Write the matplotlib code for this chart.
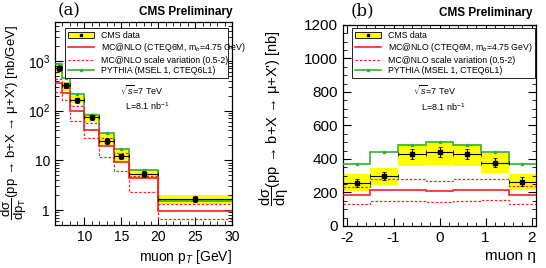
import numpy as np
import matplotlib
matplotlib.use('Agg')
import matplotlib.pyplot as plt
from matplotlib.patches import Patch
from matplotlib.lines import Line2D
from matplotlib.ticker import MultipleLocator, FixedLocator, FixedFormatter, LogLocator, NullFormatter

plt.rcParams['font.family'] = ['Liberation Sans', 'DejaVu Sans']
plt.rcParams['mathtext.fontset'] = 'custom'
plt.rcParams['mathtext.rm'] = 'Liberation Sans'
plt.rcParams['mathtext.it'] = 'Liberation Sans:italic'
plt.rcParams['mathtext.bf'] = 'Liberation Sans:bold'
plt.rcParams['axes.unicode_minus'] = False

# (a) muon pT spectrum, nb/GeV
pt_edges = [6, 7, 8, 10, 12, 14, 16, 20, 30]
pt_data = [700, 320, 162, 73, 24.8, 12.0, 5.4, 1.7]
pt_err = [80, 40, 20, 9, 3.2, 1.5, 0.7, 0.25]
pt_band_lo = [530, 245, 140, 60, 20.2, 9.3, 4.3, 1.3]
pt_band_hi = [830, 380, 200, 88, 35, 16.8, 6.7, 2.05]
pt_pythia = [850, 450, 210, 82, 36, 17.2, 6.5, 1.55]
pt_mcnlo = [360, 225, 100, 41, 19.8, 9.4, 4.4, 0.97]
pt_scale_up = [420, 290, 126, 57, 28, 14, 4.9, 1.3]
pt_scale_lo = [240, 165, 62, 27.5, 11.5, 6.0, 2.35, 0.66]
pt_yticks = [1, 10, 100, 1000]
pt_yticklabels = ['1', '10', '$10^2$', '$10^3$']

# (b) muon eta spectrum, nb
eta_edges = [-2.1, -1.5, -0.9, -0.3, 0.3, 0.9, 1.5, 2.1]
eta_data = [258, 298, 430, 440, 430, 378, 265]
eta_err = [25, 22, 28, 30, 28, 25, 25]
eta_band_lo = [207, 245, 357, 362, 357, 318, 215]
eta_band_hi = [310, 347, 492, 500, 492, 438, 312]
eta_pythia = [372, 440, 485, 502, 484, 439, 370]
eta_mcnlo = [185, 215, 213, 209, 212, 215, 185]
eta_scale_up = [234, 280, 282, 270, 278, 281, 236]
eta_scale_lo = [132, 150, 150, 145, 151, 154, 129]

RED = '#ff2020'
GREEN = '#35b035'
YELLOW = '#ffff00'


def draw_panel(ax, edges, data, err, blo, bhi, pythia, mcnlo, sup, slo):
    edges = np.array(edges)
    cen = 0.5 * (edges[1:] + edges[:-1])
    wid = edges[1:] - edges[:-1]
    blo = np.array(blo)
    bhi = np.array(bhi)
    ax.bar(cen, bhi - blo, bottom=blo, width=wid, color=YELLOW, lw=0, zorder=1)
    ax.stairs(pythia, edges, baseline=None, color=GREEN, lw=1.2, zorder=3)
    ax.plot(cen, pythia, 's', color=GREEN, ms=2, zorder=3)
    ax.stairs(mcnlo, edges, baseline=None, color=RED, lw=1.2, zorder=3)
    ax.stairs(sup, edges, baseline=None, color=RED, lw=0.9, ls=(0, (2, 1.5)), zorder=3)
    ax.stairs(slo, edges, baseline=None, color=RED, lw=0.9, ls=(0, (2, 1.5)), zorder=3)
    ax.errorbar(cen, data, yerr=err, xerr=wid / 2, fmt='s', color='black', ms=2.5,
                lw=0.8, capsize=1.2, capthick=0.6, zorder=4)


def style_axes(ax):
    ax.tick_params(which='both', direction='in', top=True, right=True, labelsize=10)
    ax.tick_params(which='major', length=6, width=0.8)
    ax.tick_params(which='minor', length=3, width=0.6)
    for s in ax.spines.values():
        s.set_linewidth(0.9)


def add_legend(ax, bbox):
    handles = [
        (Patch(facecolor=YELLOW, edgecolor='black', lw=0.6),
         Line2D([], [], marker='s', color='black', ls='none', ms=2)),
        Line2D([], [], color=RED, lw=1.2),
        Line2D([], [], color=RED, lw=0.9, ls=(0, (2, 1.5))),
        Line2D([], [], color=GREEN, lw=1.2, marker='s', ms=2),
    ]
    labels = ['CMS data', r'MC@NLO (CTEQ6M, m$_b$=4.75 GeV)',
              'MC@NLO scale variation (0.5-2)', 'PYTHIA (MSEL 1, CTEQ6L1)']
    leg = ax.legend(handles, labels, loc='upper left', bbox_to_anchor=bbox, mode='expand',
                    fontsize=6.3, handlelength=3.0, handleheight=0.7, labelspacing=0.15,
                    borderpad=0.35, borderaxespad=0.0, handletextpad=0.8, fancybox=False,
                    framealpha=1, edgecolor='black')
    leg.get_frame().set_linewidth(0.6)
    return leg


fig = plt.figure(figsize=(5.46, 2.68), dpi=100)

# panel (a)
ax1 = fig.add_axes([0.1007, 0.160, 0.3243, 0.758])
draw_panel(ax1, pt_edges, pt_data, pt_err, pt_band_lo, pt_band_hi,
           pt_pythia, pt_mcnlo, pt_scale_up, pt_scale_lo)
ax1.set_yscale('log')
ax1.set_xlim(6, 30)
ax1.set_ylim(0.5, 6000)
ax1.xaxis.set_major_locator(MultipleLocator(5))
ax1.xaxis.set_minor_locator(MultipleLocator(1))
ax1.yaxis.set_major_locator(FixedLocator(pt_yticks))
ax1.yaxis.set_major_formatter(FixedFormatter(pt_yticklabels))
ax1.yaxis.set_minor_locator(LogLocator(base=10, subs=np.arange(2, 10)))
ax1.yaxis.set_minor_formatter(NullFormatter())
style_axes(ax1)
ax1.set_xlabel('muon p$_T$ [GeV]', fontsize=10, ha='right', x=1.0, labelpad=3)
ax1.set_ylabel(r"$\dfrac{\mathrm{d\sigma}}{\mathrm{dp_T}}$(pp → b+X → μ+X') [nb/GeV]",
               fontsize=9.5, ha='right', y=1.0)
ax1.yaxis.set_label_coords(-0.145, 0.985)
add_legend(ax1, (0.056, 0.0, 0.921, 0.97))
ax1.text(0.367, 0.665, r'$\sqrt{s}$=7 TeV', transform=ax1.transAxes, fontsize=6.5, va='center')
ax1.text(0.395, 0.585, r'L=8.1 nb$^{-1}$', transform=ax1.transAxes, fontsize=6.5, va='center')

# panel (b)
ax2 = fig.add_axes([0.628, 0.157, 0.354, 0.75])
draw_panel(ax2, eta_edges, eta_data, eta_err, eta_band_lo, eta_band_hi,
           eta_pythia, eta_mcnlo, eta_scale_up, eta_scale_lo)
ax2.set_xlim(-2.1, 2.1)
ax2.set_ylim(0, 1200)
ax2.xaxis.set_major_locator(MultipleLocator(1))
ax2.xaxis.set_minor_locator(MultipleLocator(0.2))
ax2.yaxis.set_major_locator(MultipleLocator(200))
ax2.yaxis.set_minor_locator(MultipleLocator(50))
style_axes(ax2)
ax2.tick_params(which='major', labelsize=11)
ax2.set_xlabel('muon η', fontsize=11, ha='right', x=1.0, labelpad=3)
ax2.set_ylabel(r"$\dfrac{\mathrm{d\sigma}}{\mathrm{d\eta}}$(pp → b+X → μ+X') [nb]",
               fontsize=10.5, ha='right', y=1.0)
ax2.yaxis.set_label_coords(-0.27, 0.975)
add_legend(ax2, (0.047, 0.0, 0.948, 0.985))
ax2.text(0.363, 0.677, r'$\sqrt{s}$=7 TeV', transform=ax2.transAxes, fontsize=6.5, va='center')
ax2.text(0.404, 0.592, r'L=8.1 nb$^{-1}$', transform=ax2.transAxes, fontsize=6.5, va='center')

# headers
fig.text(0.425, 0.955, 'CMS Preliminary', fontsize=8.5, fontweight='bold', ha='right', va='center')
fig.text(0.975, 0.952, 'CMS Preliminary', fontsize=8.5, fontweight='bold', ha='right', va='center')
fig.text(0.126, 0.96, '(a)', fontsize=12, family='DejaVu Serif', ha='center', va='center')
fig.text(0.663, 0.96, '(b)', fontsize=12, family='DejaVu Serif', ha='center', va='center')

fig.savefig('out.png', dpi=100)
